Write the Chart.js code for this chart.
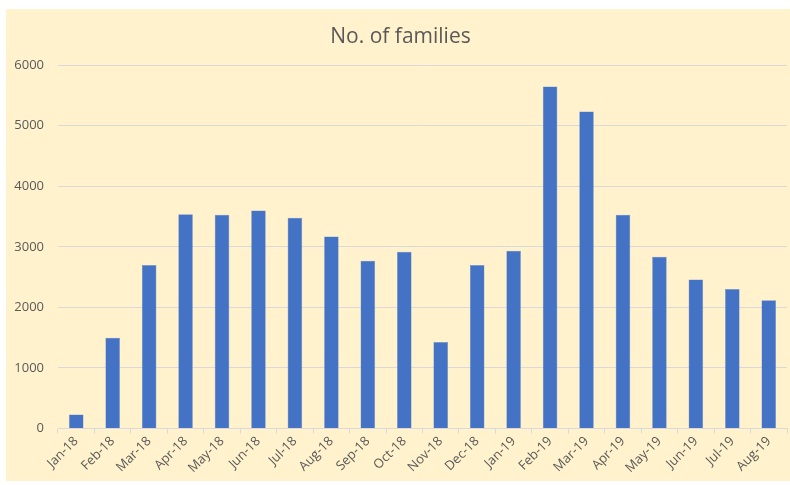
<!DOCTYPE html>
<html>
<head>
<meta charset="utf-8">
<script src="https://cdn.jsdelivr.net/npm/chart.js@4"></script>
<style>
    html, body { margin: 0; padding: 0; background: #ffffff; }
    #box {
        position: absolute;
        left: 6px;
        top: 9px;
        width: 784px;
        height: 472px;
        background: #FFF2CC;
    }
</style>
</head>
<body>
<div id="box"><canvas id="familiesChart"></canvas></div>
<script>
const months = [
    "Jan-18", "Feb-18", "Mar-18", "Apr-18", "May-18", "Jun-18", "Jul-18",
    "Aug-18", "Sep-18", "Oct-18", "Nov-18", "Dec-18", "Jan-19", "Feb-19",
    "Mar-19", "Apr-19", "May-19", "Jun-19", "Jul-19", "Aug-19",
]
const families = [
    230, 1500, 2700, 3540, 3530, 3600, 3480, 3170, 2770, 2920,
    1430, 2700, 2935, 5650, 5235, 3530, 2835, 2460, 2305, 2120,
]
const yTicks = [0, 1000, 2000, 3000, 4000, 5000, 6000]

const textColor = "#595959"
const gridColor = "#D9D9D9"

document.addEventListener("DOMContentLoaded", () => {
    const ctx = document.getElementById("familiesChart").getContext("2d")
    new Chart(ctx, {
        type: "bar",
        data: {
            labels: months,
            datasets: [
                {
                    label: "No. of families",
                    data: families,
                    backgroundColor: "#4472C4",
                    borderColor: "#6A8FD3",
                    borderWidth: 0.5,
                    categoryPercentage: 1,
                    barPercentage: 0.4,
                },
            ],
        },
        options: {
            responsive: true,
            maintainAspectRatio: false,
            animation: false,
            layout: {
                padding: { left: 8, right: 3, top: 15, bottom: 5 },
            },
            plugins: {
                legend: { display: false },
                tooltip: { enabled: false },
                title: {
                    display: true,
                    text: "No. of families",
                    color: textColor,
                    font: { family: "Open Sans", size: 21, weight: "normal" },
                    padding: { top: 0, bottom: 16 },
                },
            },
            scales: {
                x: {
                    offset: true,
                    grid: {
                        display: true,
                        drawOnChartArea: false,
                        drawTicks: true,
                        tickLength: 5,
                        color: gridColor,
                        offset: true,
                    },
                    border: { color: gridColor, width: 1 },
                    ticks: {
                        color: textColor,
                        font: { family: "Open Sans", size: 13 },
                        maxRotation: 45,
                        minRotation: 45,
                        autoSkip: false,
                        padding: 0,
                    },
                },
                y: {
                    min: 0,
                    max: 6000,
                    afterBuildTicks: (axis) => {
                        axis.ticks = yTicks.map((v) => ({ value: v }))
                    },
                    afterFit: (axis) => {
                        axis.width = 44
                    },
                    grid: {
                        color: gridColor,
                        drawTicks: false,
                    },
                    border: { display: false },
                    ticks: {
                        color: textColor,
                        font: { family: "Open Sans", size: 13 },
                        padding: 14,
                        callback: (value) => String(value),
                    },
                },
            },
        },
    })
})
</script>
</body>
</html>
